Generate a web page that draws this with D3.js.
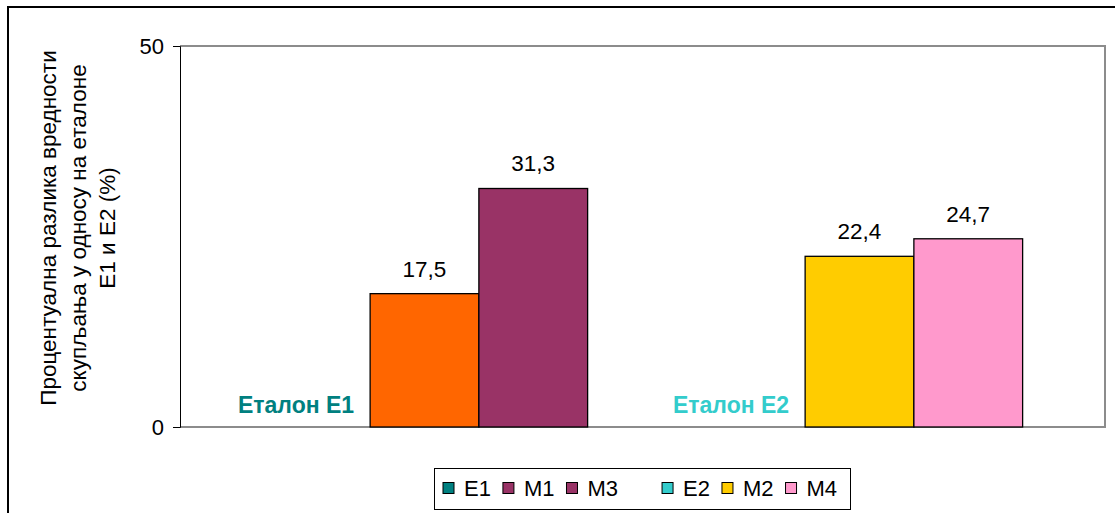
<!DOCTYPE html>
<html>
<head>
<meta charset="utf-8">
<script src="https://cdn.jsdelivr.net/npm/d3@7"></script>
<style>
  html, body { margin: 0; padding: 0; background: #fff; }
  svg { display: block; font-family: Arial, "Liberation Sans", sans-serif; }
</style>
</head>
<body>
<svg id="chart" width="1115" height="513"></svg>
<script>
// ---- data ----
const categories = ["Еталон E1", "Еталон E2"];
const categoryColors = ["#008080", "#33CCCC"];
const seriesGroup1 = ["E1", "M1", "M3"];
const seriesGroup2 = ["E2", "M2", "M4"];
const valuesGroup1 = [0, 17.5, 31.3];
const valuesGroup2 = [0, 22.4, 24.7];
const colorsGroup1 = ["#008080", "#FF6600", "#993366"];
const colorsGroup2 = ["#33CCCC", "#FFCC00", "#FF99CC"];
const legendNames = ["E1", "M1", "M3", "E2", "M2", "M4"];
const legendColors = ["#008080", "#993366", "#993366", "#33CCCC", "#FFCC00", "#FF99CC"];
const yTicks = [0, 50];
const yTitle = ["Процентуална разлика вредности", "скупљања у односу на еталоне", "E1 и E2 (%)"];

const groups = [
  { cat: categories[0], names: seriesGroup1, values: valuesGroup1, colors: colorsGroup1, labelColor: categoryColors[0] },
  { cat: categories[1], names: seriesGroup2, values: valuesGroup2, colors: colorsGroup2, labelColor: categoryColors[1] }
];

const svg = d3.select("#chart");

// outer frame (clipped at right/bottom like reference)
svg.append("rect").attr("x", 8).attr("y", 7).attr("width", 1120).attr("height", 520)
  .attr("fill", "none").attr("stroke", "#000").attr("stroke-width", 2);

const plot = { left: 180, right: 1105, top: 46, bottom: 427 };

// plot area border (gray)
svg.append("path")
  .attr("d", `M${plot.left},${plot.top}H${plot.right}V${plot.bottom}H${plot.left}`)
  .attr("fill", "none").attr("stroke", "#8c8c8c").attr("stroke-width", 2);

const y = d3.scaleLinear().domain([0, 50]).range([plot.bottom, plot.top]);
const x0 = d3.scaleBand().domain(categories).range([207, 1077]).paddingInner(0).paddingOuter(0);
const x1 = d3.scaleBand().domain([0, 1, 2]).range([0, x0.bandwidth()]).paddingInner(0).paddingOuter(0.5);

// y axis
const yAxis = svg.append("g").attr("transform", `translate(${plot.left},0)`)
  .call(d3.axisLeft(y).tickValues(yTicks).tickSize(7).tickPadding(9).tickFormat(d3.format("d")));
yAxis.select(".domain").attr("stroke", "#000").attr("stroke-width", 1);
yAxis.selectAll(".tick line").attr("stroke", "#000");
yAxis.selectAll(".tick text").attr("font-size", 22).attr("fill", "#000")
  .attr("font-family", "Arial, 'Liberation Sans', sans-serif");

// y title
const titleBaselines = [56, 86, 115];
yTitle.forEach((t, i) => {
  svg.append("text")
    .attr("transform", `translate(${titleBaselines[i]},228) rotate(-90)`)
    .attr("text-anchor", "middle").attr("font-size", 22.5).attr("fill", "#000")
    .text(t);
});

// bars
groups.forEach(g => {
  const gx = x0(g.cat);
  g.values.forEach((v, i) => {
    if (v > 0) {
      svg.append("rect")
        .attr("x", gx + x1(i)).attr("y", y(v))
        .attr("width", x1.bandwidth()).attr("height", y(0) - y(v))
        .attr("fill", g.colors[i]).attr("stroke", "#000").attr("stroke-width", 1.3);
      svg.append("text")
        .attr("x", gx + x1(i) + x1.bandwidth() / 2).attr("y", y(v) - 17)
        .attr("text-anchor", "middle").attr("font-size", 22.5).attr("fill", "#000")
        .text(d3.format(".1f")(v).replace(".", ","));
    } else {
      svg.append("text")
        .attr("x", gx + x1(i) + x1.bandwidth() - 16).attr("y", y(0) - 14)
        .attr("text-anchor", "end").attr("font-size", 23).attr("font-weight", "bold")
        .attr("fill", g.labelColor)
        .text(g.cat);
    }
  });
});

// legend
const leg = svg.append("g");
leg.append("rect").attr("x", 434.5).attr("y", 468.5).attr("width", 416).attr("height", 41)
  .attr("fill", "#fff").attr("stroke", "#000").attr("stroke-width", 1);
let lx = 443;
legendNames.forEach((n, i) => {
  if (i === 3) lx += 32;
  leg.append("rect").attr("x", lx).attr("y", 482.5).attr("width", 11).attr("height", 11)
    .attr("fill", legendColors[i]).attr("stroke", "#000").attr("stroke-width", 1);
  const t = leg.append("text").attr("x", lx + 21).attr("y", 496)
    .attr("font-size", 22).attr("fill", "#000").text(n);
  const w = t.node().getComputedTextLength();
  lx = lx + 21 + w + 12;
});
</script>
</body>
</html>
